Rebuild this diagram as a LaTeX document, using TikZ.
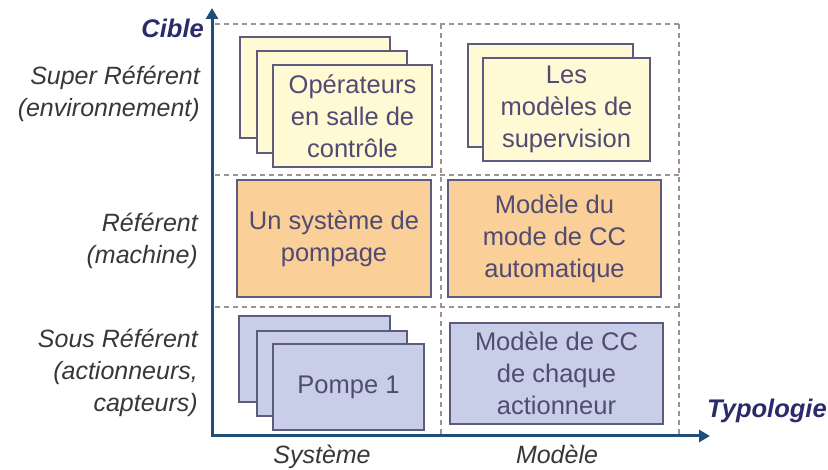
\documentclass[tikz,border=0pt]{standalone}
\usepackage{fontspec}
\setmainfont{Liberation Sans}
\usepackage{tikz}
\usetikzlibrary{arrows.meta}
\definecolor{boxline}{RGB}{95,90,128}
\definecolor{boxtext}{RGB}{80,75,115}
\definecolor{supfill}{RGB}{255,250,212}
\definecolor{reffill}{RGB}{251,207,152}
\definecolor{sousfill}{RGB}{200,206,232}
\definecolor{axisblue}{RGB}{31,78,121}
\definecolor{titleblue}{RGB}{43,42,107}
\definecolor{gridgray}{RGB}{160,146,146}
\definecolor{levelgray}{RGB}{55,55,55}
\tikzset{
  card/.style={draw=boxline, line width=1.5pt, inner sep=0pt, align=center,
    text=boxtext, font=\fontsize{25.5}{32}\selectfont},
  supcard/.style={card, fill=supfill},
  refcard/.style={card, fill=reffill},
  souscard/.style={card, fill=sousfill},
  level/.style={anchor=east, align=right, inner sep=0pt, text=levelgray,
    font=\fontsize{25}{32}\selectfont\itshape},
  coltitle/.style={anchor=base, inner sep=0pt, text=levelgray, font=\fontsize{25}{32}\selectfont\itshape},
  axistitle/.style={inner sep=0pt, text=titleblue, font=\fontsize{25.5}{32}\selectfont\bfseries\itshape},
  gridline/.style={draw=gridgray, line width=1.2pt, dash pattern=on 5pt off 4pt},
  axisline/.style={draw=axisblue, line width=3pt, {Triangle[length=11pt,width=12pt]}-{Triangle[length=11pt,width=12pt]}}
}
\begin{document}
\begin{tikzpicture}[x=1pt,y=-1pt]
\useasboundingbox (0,0) rectangle (828,470);
\foreach \y in {24,175,307}
  \draw[gridline] (215,\y) -- (679,\y);
\foreach \x in {441,679}
  \draw[gridline] (\x,24) -- (\x,436);
\node[supcard, minimum width=150pt, minimum height=101pt] (opA) at (315,87.5) {};
\node[supcard, minimum width=150pt, minimum height=102pt] (opB) at (332,102) {};
\node[supcard, minimum width=159pt, minimum height=102pt] (opC) at (352.5,116) {Opérateurs\\en salle de\\contrôle};
\node[supcard, minimum width=165pt, minimum height=103pt] (supA) at (550.5,95.5) {};
\node[supcard, minimum width=167pt, minimum height=103pt] (supB) at (566.5,109.5) {Les\\modèles de\\supervision};
\node[refcard, minimum width=194pt, minimum height=117pt] (pompage) at (334,238.5) {Un système de\\pompage};
\node[refcard, minimum width=213pt, minimum height=117pt] (modeCC) at (554.5,238.5) {Modèle du\\mode de CC\\automatique};
\node[souscard, minimum width=151pt, minimum height=86pt] (pA) at (314.5,359) {};
\node[souscard, minimum width=150pt, minimum height=85pt] (pB) at (332,373.5) {};
\node[souscard, minimum width=151pt, minimum height=86pt] (pC) at (348.5,387) {Pompe 1};
\node[souscard, minimum width=213pt, minimum height=101pt] (actCC) at (556.5,373.5) {Modèle de CC\\de chaque\\actionneur};
\coordinate (O) at (212,436);
\coordinate (ytip) at (212,8);
\coordinate (xtip) at (710,436);
\draw[axisline] (ytip) -- (O) -- (xtip);
\node[level] (lsup) at (200,94) {Super Référent\\(environnement)};
\node[level] (lref) at (198,241) {Référent\\(machine)};
\node[level] (lsous) at (198,373) {Sous Référent\\(actionneurs,\\capteurs)};
\node[axistitle, anchor=east] (cible) at (204,28) {Cible};
\node[axistitle, anchor=west] (typo) at (707,411) {Typologie};
\node[coltitle] (sys) at (322,464) {Système};
\node[coltitle] (mod) at (557,464) {Modèle};
\end{tikzpicture}
\end{document}
